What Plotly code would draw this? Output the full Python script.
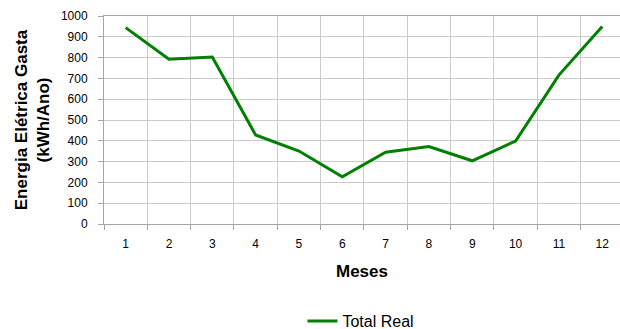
import plotly.graph_objects as go

months = ["1", "2", "3", "4", "5", "6", "7", "8", "9", "10", "11", "12"]
total_real = [944, 792, 803, 428, 351, 227, 345, 372, 304, 399, 716, 949]
y_ticks = [0, 100, 200, 300, 400, 500, 600, 700, 800, 900, 1000]

FONT = "Arial, Liberation Sans, sans-serif"

fig = go.Figure()
fig.add_trace(go.Scatter(
    x=months, y=total_real, mode="lines", name="Total Real",
    line=dict(color="#008000", width=3),
))

fig.update_layout(
    width=620, height=329,
    margin=dict(l=104, r=0, t=16, b=105),
    paper_bgcolor="white", plot_bgcolor="white",
    font=dict(family=FONT, size=12, color="black"),
    showlegend=True,
    legend=dict(orientation="h", x=0.498, xanchor="center",
                yref="container", y=1 - 321 / 329, yanchor="middle",
                font=dict(family=FONT, size=16, color="black"),
                itemwidth=30),
    xaxis=dict(
        type="category", range=[-0.5, 11.41], tickson="boundaries",
        showgrid=True, gridcolor="#cccccc", gridwidth=1,
        showline=True, linecolor="#a6a6a6", linewidth=1, mirror=True,
        ticks="outside", ticklen=5, tickcolor="#a6a6a6",
        ticklabelstandoff=9,
        tickfont=dict(family=FONT, size=12, color="black"),
        title=dict(text="<b>Meses</b>", font=dict(family=FONT, size=17, color="black"), standoff=14),
        automargin=False,
    ),
    yaxis=dict(
        range=[0, 1000], tickvals=y_ticks,
        showgrid=True, gridcolor="#cccccc", gridwidth=1,
        showline=True, linecolor="#a6a6a6", linewidth=1,
        ticks="outside", ticklen=5, tickcolor="#a6a6a6",
        ticklabelstandoff=8,
        tickfont=dict(family=FONT, size=12, color="black"),
        zeroline=False,
        title=dict(text="<b>Energia Elétrica Gasta<br>(kWh/Ano)</b>",
                   font=dict(family=FONT, size=17, color="black"), standoff=6),
        automargin=False,
    ),
)

fig.write_html("out.html")
